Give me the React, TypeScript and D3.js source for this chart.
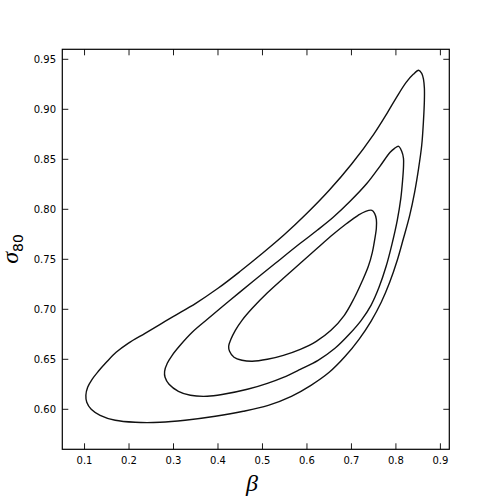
import React from 'react';
import * as d3 from 'd3';

const xTicks = [0.1, 0.2, 0.3, 0.4, 0.5, 0.6, 0.7, 0.8, 0.9];
const yTicks = [0.6, 0.65, 0.7, 0.75, 0.8, 0.85, 0.9, 0.95];
const xDomain = [0.05, 0.92];
const yDomain = [0.56, 0.96];

const outerContour: [number, number][] = [
  [0.851, 0.939], [0.858, 0.936], [0.862, 0.930], [0.864, 0.921], [0.864, 0.909],
  [0.862, 0.889], [0.858, 0.864], [0.851, 0.841], [0.842, 0.817], [0.831, 0.794],
  [0.817, 0.771], [0.803, 0.749], [0.786, 0.727], [0.767, 0.707], [0.744, 0.688],
  [0.717, 0.670], [0.686, 0.653], [0.650, 0.637], [0.609, 0.624], [0.565, 0.613],
  [0.513, 0.604], [0.457, 0.598], [0.394, 0.593], [0.326, 0.589], [0.270, 0.587],
  [0.214, 0.587], [0.169, 0.589], [0.135, 0.594], [0.115, 0.600], [0.105, 0.607],
  [0.103, 0.614], [0.107, 0.622], [0.117, 0.630], [0.131, 0.638], [0.149, 0.647],
  [0.171, 0.657], [0.198, 0.666], [0.236, 0.676], [0.270, 0.685], [0.300, 0.693],
  [0.350, 0.706], [0.400, 0.721], [0.450, 0.738], [0.500, 0.756], [0.550, 0.775],
  [0.600, 0.796], [0.650, 0.819], [0.700, 0.845], [0.750, 0.875], [0.780, 0.896],
  [0.800, 0.911], [0.823, 0.927], [0.839, 0.935],
];

const middleContour: [number, number][] = [
  [0.806, 0.863], [0.813, 0.858], [0.817, 0.851], [0.817, 0.842], [0.815, 0.829],
  [0.811, 0.811], [0.803, 0.789], [0.791, 0.765], [0.778, 0.743], [0.762, 0.722],
  [0.744, 0.704], [0.722, 0.689], [0.695, 0.675], [0.663, 0.661], [0.625, 0.649],
  [0.585, 0.640], [0.547, 0.632], [0.511, 0.626], [0.466, 0.620], [0.412, 0.615],
  [0.376, 0.613], [0.338, 0.614], [0.311, 0.618], [0.290, 0.625], [0.281, 0.632],
  [0.280, 0.638], [0.286, 0.646], [0.297, 0.654], [0.315, 0.664], [0.342, 0.677],
  [0.376, 0.690], [0.427, 0.709], [0.479, 0.728], [0.529, 0.746], [0.585, 0.766],
  [0.623, 0.779], [0.659, 0.792], [0.697, 0.808], [0.735, 0.826], [0.764, 0.843],
  [0.787, 0.857], [0.797, 0.861],
];

const innerContour: [number, number][] = [
  [0.746, 0.799], [0.752, 0.796], [0.756, 0.790], [0.756, 0.781], [0.752, 0.769],
  [0.747, 0.757], [0.738, 0.743], [0.724, 0.728], [0.706, 0.711], [0.684, 0.694],
  [0.654, 0.679], [0.621, 0.668], [0.585, 0.660], [0.547, 0.654], [0.511, 0.650],
  [0.477, 0.648], [0.454, 0.649], [0.436, 0.652], [0.426, 0.658], [0.424, 0.663],
  [0.429, 0.670], [0.439, 0.679], [0.454, 0.689], [0.477, 0.701], [0.510, 0.716],
  [0.547, 0.731], [0.585, 0.746], [0.623, 0.761], [0.659, 0.775], [0.690, 0.786],
  [0.715, 0.794], [0.732, 0.798],
];

const contours = [outerContour, middleContour, innerContour];

const left = 62.3, right = 449.3, top = 49.3, bottom = 449.3;

export default function App() {
  const x = d3.scaleLinear().domain(xDomain).range([left, right]);
  const y = d3.scaleLinear().domain(yDomain).range([bottom, top]);
  const line = d3.line<[number, number]>()
    .x(d => x(d[0]))
    .y(d => y(d[1]))
    .curve(d3.curveCatmullRomClosed.alpha(0.5));
  const tickLen = 6;
  const font = "'DejaVu Sans', sans-serif";
  return (
    <svg width={500} height={500} style={{ position: 'absolute', left: 0, top: 0, background: '#fff' }}>
      <rect x={0} y={0} width={500} height={500} fill="#fff" />
      <defs>
        <clipPath id="clip">
          <rect x={left} y={top} width={right - left} height={bottom - top} />
        </clipPath>
      </defs>
      <g clipPath="url(#clip)">
        {contours.map((c, i) => (
          <path key={i} d={line(c) || ''} fill="none" stroke="#111" strokeWidth={1.4} />
        ))}
      </g>
      {xTicks.map(t => (
        <g key={'x' + t}>
          <line x1={x(t)} x2={x(t)} y1={bottom} y2={bottom - tickLen} stroke="#000" strokeWidth={0.9} />
          <line x1={x(t)} x2={x(t)} y1={top} y2={top + tickLen} stroke="#000" strokeWidth={0.9} />
          <text x={x(t)} y={463.5} textAnchor="middle" fontFamily={font} fontSize={10} fill="#000">
            {t.toFixed(1)}
          </text>
        </g>
      ))}
      {yTicks.map(t => (
        <g key={'y' + t}>
          <line x1={left} x2={left + tickLen} y1={y(t)} y2={y(t)} stroke="#000" strokeWidth={0.9} />
          <line x1={right} x2={right - tickLen} y1={y(t)} y2={y(t)} stroke="#000" strokeWidth={0.9} />
          <text x={56} y={y(t)} dy="0.36em" textAnchor="end" fontFamily={font} fontSize={10} fill="#000">
            {t.toFixed(2)}
          </text>
        </g>
      ))}
      <rect x={left} y={top} width={right - left} height={bottom - top} fill="none" stroke="#000" strokeWidth={1.2} />
      <text x={252} y={491} textAnchor="middle" fontFamily="'Liberation Serif', serif" fontStyle="italic" fontSize={24} fill="#000">
        β
      </text>
      <text transform="translate(18, 249) rotate(-90)" textAnchor="middle" fontFamily="'Liberation Serif', serif" fill="#000">
        <tspan fontStyle="italic" fontSize={24}>σ</tspan>
        <tspan fontFamily="'DejaVu Sans', sans-serif" fontSize={14} dy={5}>80</tspan>
      </text>
    </svg>
  );
}
